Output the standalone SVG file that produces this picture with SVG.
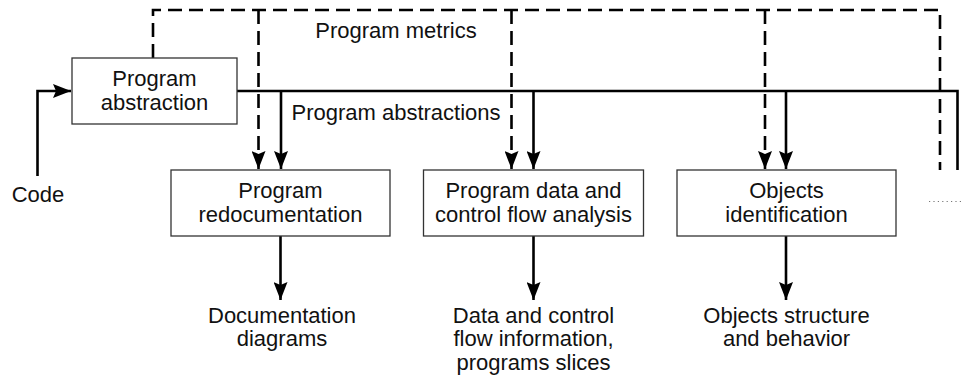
<svg xmlns="http://www.w3.org/2000/svg" width="963" height="378" viewBox="0 0 963 378">
  <style>
    text { font-family: "Liberation Sans", Arial, Helvetica, sans-serif; font-size: 22px; fill: #111; text-anchor: middle; }
    .box { fill: #fff; stroke: #333; stroke-width: 1.3; }
    .flow { fill: none; stroke: #000; stroke-width: 2.6; }
    .metric { fill: none; stroke: #000; stroke-width: 2.6; stroke-dasharray: 14 7; }
    .more { fill: none; stroke: #777; stroke-width: 1; stroke-dasharray: 1.2 3.2; }
  </style>
  <defs>
    <marker id="arrow" markerUnits="userSpaceOnUse" markerWidth="19" markerHeight="14" viewBox="0 0 19 14" refX="18" refY="7" orient="auto">
      <path d="M0,0 L18,7 L0,14 L3,7 z" fill="#000"/>
    </marker>
  </defs>

  <!-- connectors -->
  <g id="connectors">
    <!-- code input -->
    <path class="flow" d="M37.5,176 V91 H71" marker-end="url(#arrow)"/>
    <!-- abstraction bus -->
    <path class="flow" d="M237,91 H957.5 V170"/>
    <path class="flow" d="M281,91 V169" marker-end="url(#arrow)"/>
    <path class="flow" d="M533.5,91 V169" marker-end="url(#arrow)"/>
    <path class="flow" d="M786,91 V169" marker-end="url(#arrow)"/>
    <!-- metrics bus -->
    <path class="metric" d="M153,58 V10 H940 V170"/>
    <path class="metric" d="M258.5,10 V169" marker-end="url(#arrow)"/>
    <path class="metric" d="M511.5,10 V169" marker-end="url(#arrow)"/>
    <path class="metric" d="M765,10 V169" marker-end="url(#arrow)"/>
    <!-- outputs -->
    <path class="flow" d="M280.5,236 V300" marker-end="url(#arrow)"/>
    <path class="flow" d="M533.5,236 V300" marker-end="url(#arrow)"/>
    <path class="flow" d="M786,236 V300" marker-end="url(#arrow)"/>
    <!-- further tools -->
    <path class="more" d="M929,201.5 H963"/>
  </g>

  <text x="396" y="38">Program metrics</text>
  <text x="396" y="120">Program abstractions</text>
  <text x="38" y="201.5">Code</text>

  <g id="program-abstraction">
    <rect class="box" x="72" y="58" width="165" height="66"/>
    <text x="154.5" y="86">Program</text>
    <text x="154.5" y="109.5">abstraction</text>
  </g>

  <g id="program-redocumentation">
    <rect class="box" x="171" y="170" width="219" height="66"/>
    <text x="280.5" y="198">Program</text>
    <text x="280.5" y="221.5">redocumentation</text>
  </g>

  <g id="data-control-flow-analysis">
    <rect class="box" x="423.5" y="170" width="220" height="66"/>
    <text x="533.5" y="198">Program data and</text>
    <text x="533.5" y="221.5">control flow analysis</text>
  </g>

  <g id="objects-identification">
    <rect class="box" x="677" y="170" width="219" height="66"/>
    <text x="786.5" y="198">Objects</text>
    <text x="786.5" y="221.5">identification</text>
  </g>

  <g id="documentation-diagrams">
    <text x="282" y="322.5">Documentation</text>
    <text x="282" y="346">diagrams</text>
  </g>

  <g id="flow-information">
    <text x="533.5" y="322.5">Data and control</text>
    <text x="533.5" y="346">flow information,</text>
    <text x="533.5" y="369.5">programs slices</text>
  </g>

  <g id="objects-structure">
    <text x="786.5" y="322.5">Objects structure</text>
    <text x="786.5" y="346">and behavior</text>
  </g>
</svg>
